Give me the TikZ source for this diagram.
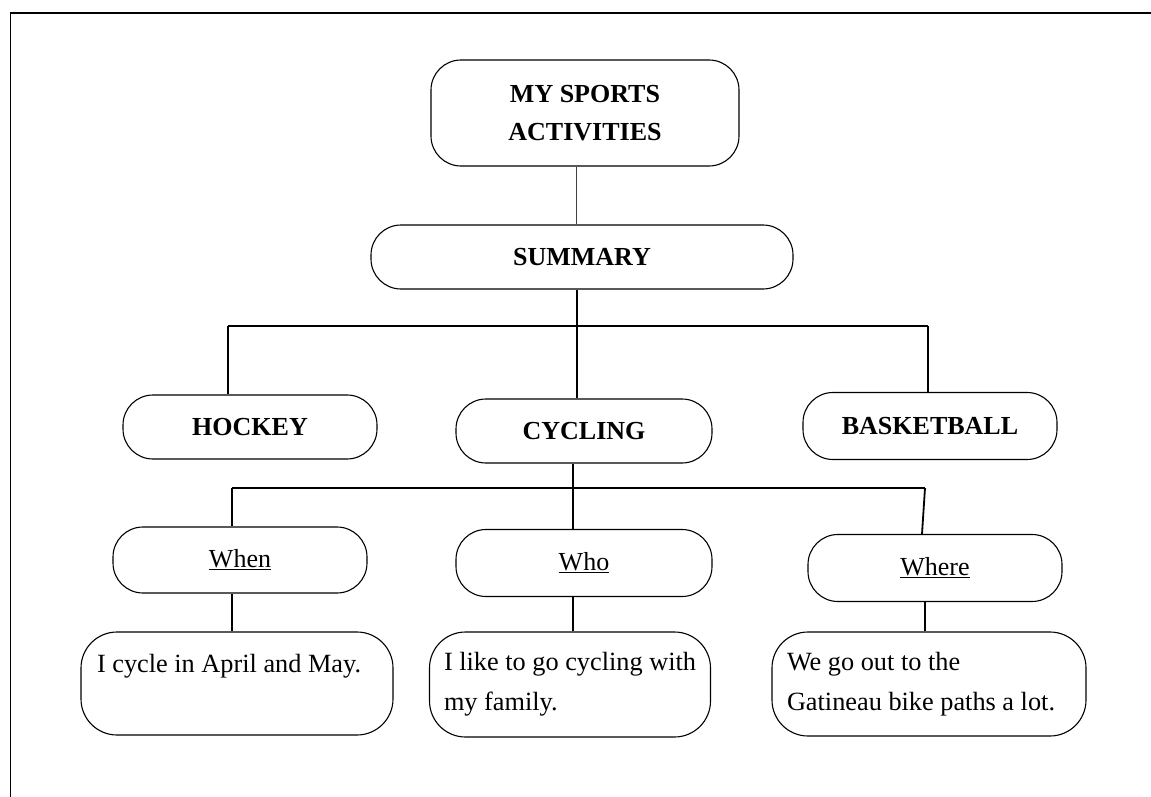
\documentclass[tikz,border=0pt]{standalone}
\usepackage{fontspec}
\setmainfont{Liberation Serif}
\tikzset{
  pill/.style={draw,line width=1.1pt,rounded corners=30pt,minimum width=254pt,minimum height=64pt,inner sep=0pt,align=center,font=\fontsize{26}{38}\selectfont},
  head/.style={pill,font=\fontsize{26}{38}\selectfont\bfseries},
  note/.style={draw,line width=1.1pt,rounded corners=36pt,inner sep=0pt,align=flush left,font=\fontsize{26.3}{40}\selectfont},
  bar/.style={line width=1.8pt},
  thinbar/.style={line width=0.8pt,black!75},
}

\begin{document}
\begin{tikzpicture}[x=1pt,y=-1pt]
\useasboundingbox (0,0) rectangle (1151,797);
\draw[line width=1.2pt] (10.5,797) -- (10.5,13) -- (1151,13);
% boxes
\node[head,minimum width=308pt,minimum height=106pt] (title) at (585,113) {MY SPORTS\\ACTIVITIES};
\node[head,minimum width=422pt] (summary) at (582,257) {SUMMARY};
\node[head] (hockey) at (250,427) {HOCKEY};
\node[head,minimum width=256pt] (cycling) at (584,431) {CYCLING};
\node[head,minimum height=67pt] (basketball) at (930,426) {BASKETBALL};
\node[pill,minimum height=66pt] (when) at (240,560) {\underline{When}};
\node[pill,minimum width=256pt,minimum height=67pt] (who) at (584,563) {\underline{Who}};
\node[pill,minimum height=67pt] (where) at (935,568) {\underline{Where}};
\node[note,text width=280pt,minimum width=312pt,minimum height=103pt] (cyc1) at (237,683.5) {I cycle in April and May.\\\mbox{}};
\node[note,minimum width=281pt,minimum height=105pt] (cyc2) at (570,684.5) {I like to go cycling with\\my family.};
\node[note,text width=284pt,minimum width=314pt,minimum height=104pt] (cyc3) at (929,684) {We go out to the\\Gatineau bike paths a lot.};
% junctions
\coordinate (jt) at (576,0);
\coordinate (sl) at (228,326); \coordinate (sm) at (577,326); \coordinate (sr) at (928,326);
\coordinate (cl) at (232,488); \coordinate (cm) at (573,488); \coordinate (cr) at (925,488);
% connectors
\draw[thinbar] (title.south -| jt) -- (summary.north -| jt);
\draw[bar] (sl) -- (sr);
\draw[bar] (sl) -- (sl |- hockey.north);
\draw[bar] (sr) -- (sr |- basketball.north);
\draw[bar,line width=2.8pt] (summary.south -| sm) -- (cycling.north -| sm);
\draw[bar] (cl) -- (cr);
\draw[bar] (cl) -- (cl |- when.north);
\draw[bar] (cycling.south -| cm) -- (who.north -| cm);
\draw[bar] (cr) -- ([xshift=-3pt]cr |- where.north);
\draw[bar] (when.south -| cl) -- (cyc1.north -| cl);
\draw[bar] (who.south -| cm) -- (cyc2.north -| cm);
\draw[bar] (where.south -| cr) -- (cyc3.north -| cr);
\end{tikzpicture}
\end{document}
